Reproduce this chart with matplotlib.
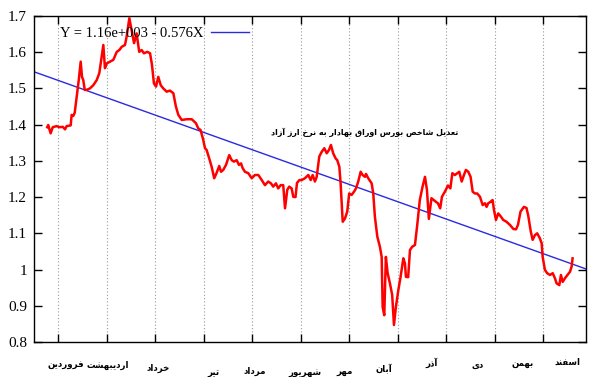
import numpy as np
import matplotlib
matplotlib.use('Agg')
import matplotlib.pyplot as plt
from matplotlib.ticker import FuncFormatter
from matplotlib.transforms import blended_transform_factory

# index values, x in days from the left edge
days = [8.2, 8.8, 10.3, 11.6, 14.0, 15.7, 17.8, 19.2, 20.2, 22.7,
        23.3, 24.3, 25.2, 26.4, 27.7, 28.9, 29.7, 30.5, 31.4, 32.6,
        34.6, 36.7, 38.8, 40.4, 41.6, 42.9, 43.9, 45.0, 47.0, 49.1,
        51.2, 52.8, 54.3, 56.3, 57.3, 59.0, 60.4, 61.9, 63.5, 65.1,
        66.6, 68.0, 70.1, 71.8, 73.0, 74.2, 75.5, 76.9, 78.4, 80.0,
        82.1, 84.1, 86.2, 87.8, 89.3, 91.4, 94.5, 97.6, 100.2, 101.6,
        103.1, 104.7, 105.8, 106.8, 108.4, 109.9, 111.5, 113.0, 114.6, 115.7,
        117.1, 118.8, 120.8, 122.3, 123.7, 125.4, 126.8, 128.1, 129.1, 130.5,
        132.6, 134.7, 136.7, 138.8, 140.9, 142.9, 144.9, 146.6, 148.0, 149.7,
        151.1, 152.6, 154.2, 155.3, 156.7, 157.9, 159.4, 160.4, 161.8, 162.7,
        164.2, 165.6, 167.6, 169.7, 171.2, 172.4, 173.8, 174.9, 176.5, 178.0,
        179.6, 181.1, 182.5, 183.7, 185.1, 186.6, 187.6, 188.9, 189.7, 191.0,
        192.4, 193.8, 195.0, 196.5, 198.0, 199.2, 200.6, 202.1, 203.3, 204.8,
        205.4, 206.8, 208.9, 209.9, 210.9, 212.4, 214.0, 215.1, 215.7, 216.7,
        217.7, 218.8, 220.2, 221.6, 222.7, 223.9, 225.4, 226.8, 228.5, 229.5,
        230.1, 231.5, 232.6, 234.0, 235.7, 237.1, 238.7, 240.4, 241.9, 243.1,
        244.3, 245.9, 248.1, 249.9, 251.3, 252.4, 254.2, 256.1, 257.6, 258.8,
        260.4, 261.9, 263.1, 264.6, 266.0, 267.2, 268.7, 270.1, 271.4, 272.8,
        274.2, 275.9, 277.6, 279.0, 280.0, 281.0, 282.5, 283.7, 284.6, 285.8,
        287.2, 288.9, 290.3, 292.3, 294.5, 296.6, 298.2, 299.4, 301.0, 303.1,
        304.7, 305.8, 307.3, 308.5, 309.9, 311.3, 313.0, 314.1, 314.7, 316.1,
        317.5, 319.2, 320.9, 322.3, 323.3, 325.0, 326.0, 327.1, 328.5, 329.5,
        331.6, 332.6, 333.2]
index = [1.393, 1.399, 1.376, 1.393, 1.396, 1.393, 1.394, 1.387, 1.396, 1.398,
         1.427, 1.424, 1.433, 1.477, 1.523, 1.574, 1.532, 1.523, 1.496, 1.496,
         1.500, 1.509, 1.523, 1.542, 1.579, 1.620, 1.556, 1.569, 1.574, 1.579,
         1.601, 1.606, 1.615, 1.620, 1.643, 1.694, 1.661, 1.625, 1.652, 1.601,
         1.606, 1.597, 1.601, 1.597, 1.565, 1.514, 1.505, 1.532, 1.509, 1.500,
         1.491, 1.494, 1.487, 1.450, 1.427, 1.413, 1.415, 1.415, 1.404, 1.390,
         1.385, 1.358, 1.335, 1.330, 1.307, 1.284, 1.252, 1.267, 1.286, 1.270,
         1.275, 1.289, 1.316, 1.302, 1.298, 1.302, 1.289, 1.293, 1.280, 1.270,
         1.266, 1.252, 1.261, 1.261, 1.247, 1.233, 1.243, 1.238, 1.229, 1.238,
         1.224, 1.233, 1.233, 1.169, 1.220, 1.229, 1.224, 1.201, 1.200, 1.239,
         1.247, 1.247, 1.252, 1.261, 1.247, 1.261, 1.243, 1.256, 1.312, 1.325,
         1.335, 1.321, 1.330, 1.344, 1.321, 1.307, 1.302, 1.284, 1.238, 1.132,
         1.141, 1.160, 1.210, 1.206, 1.215, 1.224, 1.243, 1.270, 1.261, 1.256,
         1.264, 1.252, 1.238, 1.210, 1.146, 1.091, 1.063, 1.035, 0.897, 0.874,
         1.035, 0.990, 0.962, 0.930, 0.847, 0.897, 0.943, 0.980, 1.031, 1.017,
         0.980, 0.979, 1.054, 1.063, 1.068, 1.123, 1.192, 1.229, 1.256, 1.220,
         1.140, 1.197, 1.189, 1.183, 1.169, 1.201, 1.215, 1.232, 1.224, 1.266,
         1.261, 1.266, 1.270, 1.243, 1.261, 1.275, 1.270, 1.256, 1.215, 1.210,
         1.210, 1.201, 1.178, 1.183, 1.173, 1.183, 1.187, 1.192, 1.164, 1.137,
         1.155, 1.146, 1.137, 1.132, 1.123, 1.112, 1.111, 1.123, 1.160, 1.173,
         1.170, 1.148, 1.106, 1.082, 1.095, 1.100, 1.086, 1.072, 1.035, 0.999,
         0.990, 0.985, 0.990, 0.976, 0.962, 0.957, 0.985, 0.966, 0.976, 0.982,
         0.994, 1.008, 1.031]

trend_intercept = 1.546
trend_slope = -0.001594
legend_label = "Y = 1.16e+003 - 0.576X"

month_names = ["فروردین", "اردیبهشت", "خرداد", "تیر", "مرداد", "شهریور",
               "مهر", "آبان", "آذر", "دی", "بهمن", "اسفند"]
note_text = "تعدیل شاخص بورس اوراق بهادار به نرخ ارز آزاد"

# layout of the month labels (x in days, y in figure fraction)
label_x = [19.8, 45.8, 76.7, 111.3, 136.7, 167.6, 192.4, 216.5, 246.2, 274.7, 302.5, 330.3]
label_y = [0.034, 0.032, 0.024, 0.013, 0.016, 0.013, 0.013, 0.021, 0.037, 0.032, 0.037, 0.040]

# --- crude arabic shaping: matplotlib has no bidi/joining support ---
forms = {
    'ا': ('\uFE8D', '\uFE8E'), 'آ': ('\uFE81', '\uFE82'),
    'د': ('\uFEA9', '\uFEAA'), 'ذ': ('\uFEAB', '\uFEAC'),
    'ر': ('\uFEAD', '\uFEAE'), 'ز': ('\uFEAF', '\uFEB0'),
    'و': ('\uFEED', '\uFEEE'),
    'ب': ('\uFE8F', '\uFE90', '\uFE91', '\uFE92'),
    'ت': ('\uFE95', '\uFE96', '\uFE97', '\uFE98'),
    'خ': ('\uFEA5', '\uFEA6', '\uFEA7', '\uFEA8'),
    'س': ('\uFEB1', '\uFEB2', '\uFEB3', '\uFEB4'),
    'ش': ('\uFEB5', '\uFEB6', '\uFEB7', '\uFEB8'),
    'ص': ('\uFEB9', '\uFEBA', '\uFEBB', '\uFEBC'),
    'ع': ('\uFEC9', '\uFECA', '\uFECB', '\uFECC'),
    'ف': ('\uFED1', '\uFED2', '\uFED3', '\uFED4'),
    'ق': ('\uFED5', '\uFED6', '\uFED7', '\uFED8'),
    'ل': ('\uFEDD', '\uFEDE', '\uFEDF', '\uFEE0'),
    'م': ('\uFEE1', '\uFEE2', '\uFEE3', '\uFEE4'),
    'ن': ('\uFEE5', '\uFEE6', '\uFEE7', '\uFEE8'),
    'ه': ('\uFEE9', '\uFEEA', '\uFEEB', '\uFEEC'),
    'ی': ('\uFEEF', '\uFEF0', '\uFEF3', '\uFEF4'),
}


def shape(s):
    out = []
    for i, c in enumerate(s):
        if c not in forms:
            out.append(c)
            continue
        prev = s[i - 1] if i > 0 else ''
        nxt = s[i + 1] if i + 1 < len(s) else ''
        join_prev = prev in forms and len(forms[prev]) == 4
        join_next = len(forms[c]) == 4 and nxt in forms
        f = forms[c]
        if join_prev and join_next:
            out.append(f[3])
        elif join_prev:
            out.append(f[1])
        elif join_next:
            out.append(f[2])
        else:
            out.append(f[0])
    return ''.join(reversed(out))


fig = plt.figure(figsize=(5.9, 3.77), dpi=100)
ax = fig.add_axes([0.0576, 0.0928, 0.9356, 0.8648])

ax.plot(days, index, color='#ff0000', lw=1.8, zorder=3)

xlim = (0, 341.5)
xs = np.array(xlim)
ax.plot(xs, trend_intercept + trend_slope * xs, color='#2a2ae0', lw=1.0,
        label=legend_label, zorder=2)

ax.set_xlim(xlim)
ax.set_ylim(0.8, 1.7)
ax.set_xticks(np.arange(15, 330, 30))
ax.set_xticklabels([])
ax.set_yticks(np.arange(0.8, 1.71, 0.1))
ax.yaxis.set_major_formatter(FuncFormatter(lambda v, p: '{:g}'.format(round(v, 1))))
ax.xaxis.grid(True, linestyle=(0, (1, 2)), color='#999999', lw=0.8)
ax.tick_params(direction='in', top=True, right=True, length=6, width=1, pad=5)
for lab in ax.get_yticklabels():
    lab.set_fontfamily('Liberation Serif')
    lab.set_fontsize(11)
for sp in ax.spines.values():
    sp.set_linewidth(1.0)

leg = ax.legend(loc='upper left', bbox_to_anchor=(0.047, 0.968), frameon=False,
                markerfirst=False, handlelength=2.6, borderpad=0, borderaxespad=0,
                handletextpad=0.5, prop={'family': 'Liberation Serif', 'size': 10.5})

ax.text(204.8, 1.380, shape(note_text), ha='center', va='center',
        fontsize=5.8, fontweight='bold', family='DejaVu Sans')

tr = blended_transform_factory(ax.transData, fig.transFigure)
for name, x, y in zip(month_names, label_x, label_y):
    ax.text(x, y, shape(name), transform=tr, ha='center', va='center',
            fontsize=6.2, fontweight='bold', family='DejaVu Sans')

fig.savefig('out.png', dpi=100)
